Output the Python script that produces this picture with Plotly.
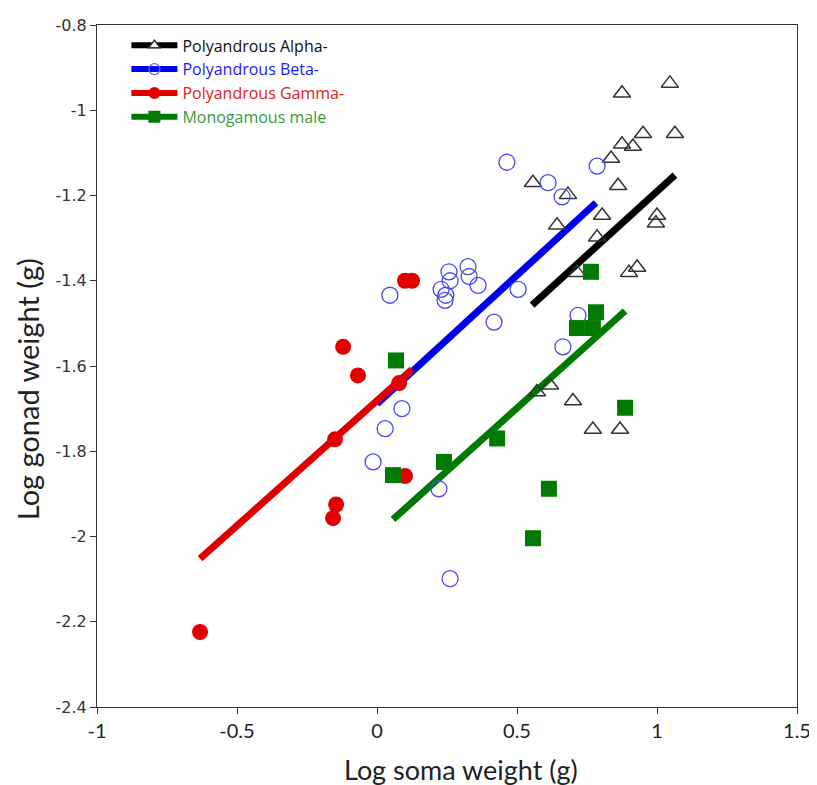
import plotly.graph_objects as go

# ---------------- data ----------------
alpha_x = [1.046, 0.875, 0.950, 1.064, 0.875, 0.914, 0.836, 0.557, 0.682, 0.861, 0.804, 1.000,
           0.996, 0.643, 0.786, 0.714, 0.900, 0.929, 0.571, 0.618, 0.700, 0.771, 0.868]
alpha_y = [-0.937, -0.960, -1.055, -1.055, -1.080, -1.085, -1.113, -1.170, -1.198, -1.177, -1.247, -1.247,
           -1.265, -1.270, -1.298, -1.381, -1.381, -1.369, -1.661, -1.645, -1.682, -1.749, -1.749]

beta_x = [0.464, 0.611, 0.661, 0.786, 0.046, 0.257, 0.261, 0.325, 0.329, 0.361, 0.229, 0.246,
          0.243, 0.504, 0.418, 0.718, 0.664, 0.089, 0.029, -0.014, 0.221, 0.261]
beta_y = [-1.122, -1.170, -1.203, -1.131, -1.434, -1.379, -1.400, -1.367, -1.390, -1.411, -1.420, -1.434,
          -1.446, -1.420, -1.497, -1.481, -1.555, -1.700, -1.747, -1.825, -1.888, -2.099]

gamma_x = [-0.121, -0.068, 0.079, -0.150, -0.146, -0.157, 0.100, 0.100, 0.125, -0.632]
gamma_y = [-1.555, -1.622, -1.640, -1.772, -1.925, -1.957, -1.858, -1.400, -1.400, -2.224]

mono_x = [0.068, 0.057, 0.239, 0.429, 0.614, 0.557, 0.764, 0.782, 0.714, 0.771, 0.886]
mono_y = [-1.587, -1.856, -1.825, -1.770, -1.888, -2.004, -1.379, -1.474, -1.511, -1.511, -1.698]

# fitted regression lines (endpoints)
alpha_fit_x = [0.554, 1.064]
alpha_fit_y = [-1.457, -1.152]
beta_fit_x = [0.0, 0.782]
beta_fit_y = [-1.689, -1.217]
gamma_fit_x = [-0.632, 0.125]
gamma_fit_y = [-2.052, -1.608]
mono_fit_x = [0.057, 0.886]
mono_fit_y = [-1.960, -1.471]

series_names = ["Polyandrous Alpha-", "Polyandrous Beta-", "Polyandrous Gamma-", "Monogamous male"]
x_title = "Log soma weight (g)"
y_title = "Log gonad weight (g)"

x_ticks = [-1, -0.5, 0, 0.5, 1, 1.5]
x_ticktext = ["-1", "-0.5", "0", "0.5", "1", "1.5"]
y_ticks = [-0.8, -1.0, -1.2, -1.4, -1.6, -1.8, -2.0, -2.2, -2.4]
y_ticktext = ["-0.8", "-1", "-1.2", "-1.4", "-1.6", "-1.8", "-2", "-2.2", "-2.4"]

# ---------------- styles ----------------
BLACK = "#000000"
BLUE = "#0000ee"
RED = "#e00000"
GREEN = "#007a00"
TXT = {"black": "#111111", "blue": "#1a1aff", "red": "#e02020", "green": "#3a9a3a"}
LW = 7

fig = go.Figure()

# fit lines
fig.add_trace(go.Scatter(x=alpha_fit_x, y=alpha_fit_y, mode="lines",
                         line=dict(color=BLACK, width=LW), showlegend=False, hoverinfo="skip"))
fig.add_trace(go.Scatter(x=beta_fit_x, y=beta_fit_y, mode="lines",
                         line=dict(color=BLUE, width=LW), showlegend=False, hoverinfo="skip"))
fig.add_trace(go.Scatter(x=gamma_fit_x, y=gamma_fit_y, mode="lines",
                         line=dict(color=RED, width=LW), showlegend=False, hoverinfo="skip"))
fig.add_trace(go.Scatter(x=mono_fit_x, y=mono_fit_y, mode="lines",
                         line=dict(color=GREEN, width=LW), showlegend=False, hoverinfo="skip"))

# markers
fig.add_trace(go.Scatter(x=alpha_x, y=alpha_y, mode="markers", showlegend=False,
                         marker=dict(symbol="triangle-up-open", size=15,
                                     color="#333333", line=dict(width=1.5, color="#333333"))))
fig.add_trace(go.Scatter(x=beta_x, y=beta_y, mode="markers", showlegend=False,
                         marker=dict(symbol="circle-open", size=16,
                                     color="#4a4aee", line=dict(width=1.3, color="#4a4aee"))))
fig.add_trace(go.Scatter(x=gamma_x, y=gamma_y, mode="markers", showlegend=False,
                         marker=dict(symbol="circle", size=16, color=RED)))
fig.add_trace(go.Scatter(x=mono_x, y=mono_y, mode="markers", showlegend=False,
                         marker=dict(symbol="square", size=16, color=GREEN)))

# legend entries
legend_specs = [
    (series_names[0], BLACK, TXT["black"], dict(symbol="triangle-up", size=10, color="white", line=dict(width=1.5, color="#333333"))),
    (series_names[1], BLUE, TXT["blue"], dict(symbol="circle-open", size=11, color="#6a6aee", line=dict(width=1.3, color="#6a6aee"))),
    (series_names[2], RED, TXT["red"], dict(symbol="circle", size=12, color=RED)),
    (series_names[3], GREEN, TXT["green"], dict(symbol="square", size=12, color=GREEN)),
]
for name, lc, tc, mk in legend_specs:
    fig.add_trace(go.Scatter(x=[None], y=[None], mode="lines+markers",
                             name=f"<span style='color:{tc}'>{name}</span>",
                             line=dict(color=lc, width=6), marker=mk))

axis_common = dict(showline=True, linecolor="#333333", linewidth=1, mirror=True,
                   showgrid=False, zeroline=False, ticks="outside", ticklen=6,
                   tickcolor="#333333", tickwidth=1, ticklabeloverflow="allow")

fig.update_layout(
    width=817, height=785,
    margin=dict(l=89, r=28, t=8, b=86),
    paper_bgcolor="white", plot_bgcolor="white",
    font=dict(family="Open Sans, sans-serif", color="#222222"),
    xaxis=dict(range=[-1, 1.5], tickvals=x_ticks, ticktext=x_ticktext,
               tickfont=dict(size=20, family="Lato, sans-serif", color="#222222"),
               **axis_common),
    yaxis=dict(range=[-2.4, -0.8], tickvals=y_ticks, ticktext=y_ticktext,
               tickfont=dict(size=16, family="DejaVu Sans, sans-serif", color="#333333"),
               **axis_common),
    legend=dict(x=0.042, y=0.995, xanchor="left", yanchor="top",
                bgcolor="rgba(0,0,0,0)", font=dict(size=16, family="Open Sans, sans-serif"),
                tracegroupgap=0, itemwidth=46),
    showlegend=True,
    annotations=[
        dict(text=x_title, xref="paper", yref="paper", x=0.52, y=-0.0912,
             xanchor="center", yanchor="middle", showarrow=False,
             font=dict(size=27, family="Lato, sans-serif", color="#222222")),
        dict(text=y_title, xref="paper", yref="paper", x=-0.1, y=0.466,
             xanchor="center", yanchor="middle", showarrow=False, textangle=-90,
             font=dict(size=29, family="Lato, sans-serif", color="#222222")),
    ],
)

fig.write_html("out.html")
